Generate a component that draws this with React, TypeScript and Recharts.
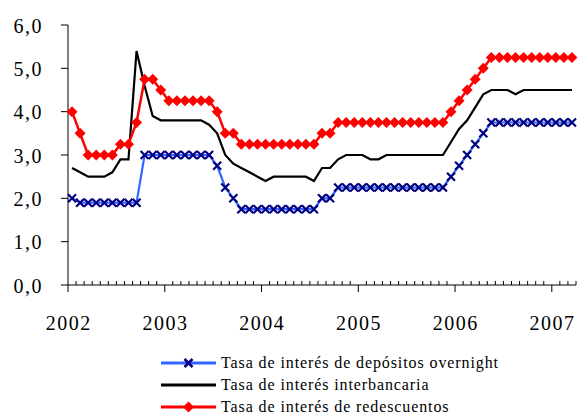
import React from "react";
import { LineChart, Line, XAxis, YAxis } from "recharts";

// monthly values, Jan 2002 .. Mar 2007
const years = ["2002", "2003", "2004", "2005", "2006", "2007"];

const overnight = [
  2.0, 1.9, 1.9, 1.9, 1.9, 1.9, 1.9, 1.9, 1.9, 3.0, 3.0, 3.0,
  3.0, 3.0, 3.0, 3.0, 3.0, 3.0, 2.75, 2.25, 2.0, 1.75, 1.75, 1.75,
  1.75, 1.75, 1.75, 1.75, 1.75, 1.75, 1.75, 2.0, 2.0, 2.25, 2.25, 2.25,
  2.25, 2.25, 2.25, 2.25, 2.25, 2.25, 2.25, 2.25, 2.25, 2.25, 2.25, 2.5,
  2.75, 3.0, 3.25, 3.5, 3.75, 3.75, 3.75, 3.75, 3.75, 3.75, 3.75, 3.75,
  3.75, 3.75, 3.75,
];

const interbancaria = [
  2.7, 2.6, 2.5, 2.5, 2.5, 2.6, 2.9, 2.9, 5.4, 4.6, 3.9, 3.8,
  3.8, 3.8, 3.8, 3.8, 3.8, 3.7, 3.5, 3.0, 2.8, 2.7, 2.6, 2.5,
  2.4, 2.5, 2.5, 2.5, 2.5, 2.5, 2.4, 2.7, 2.7, 2.9, 3.0, 3.0,
  3.0, 2.9, 2.9, 3.0, 3.0, 3.0, 3.0, 3.0, 3.0, 3.0, 3.0, 3.3,
  3.6, 3.8, 4.1, 4.4, 4.5, 4.5, 4.5, 4.4, 4.5, 4.5, 4.5, 4.5,
  4.5, 4.5, 4.5,
];

const redescuentos = [
  4.0, 3.5, 3.0, 3.0, 3.0, 3.0, 3.25, 3.25, 3.75, 4.75, 4.75, 4.5,
  4.25, 4.25, 4.25, 4.25, 4.25, 4.25, 4.0, 3.5, 3.5, 3.25, 3.25, 3.25,
  3.25, 3.25, 3.25, 3.25, 3.25, 3.25, 3.25, 3.5, 3.5, 3.75, 3.75, 3.75,
  3.75, 3.75, 3.75, 3.75, 3.75, 3.75, 3.75, 3.75, 3.75, 3.75, 3.75, 4.0,
  4.25, 4.5, 4.75, 5.0, 5.25, 5.25, 5.25, 5.25, 5.25, 5.25, 5.25, 5.25,
  5.25, 5.25, 5.25,
];

const labels = [
  "Tasa de interés de depósitos overnight",
  "Tasa de interés interbancaria",
  "Tasa de interés de redescuentos",
];

const yTicks = [0, 1, 2, 3, 4, 5, 6];

// points sit in the middle of each month
const data = overnight.map((v, i) => ({
  m: i + 0.5,
  overnight: v,
  interbancaria: interbancaria[i],
  redescuentos: redescuentos[i],
}));
const monthTicks = Array.from({ length: 64 }, (_, i) => i);

const FONT = '"Liberation Serif", "Times New Roman", serif';
const NAVY = "#000080";
const BLUE = "#3366ff";
const RED = "#ff0000";

const crossPath = (x: number, y: number, r: number) =>
  `M${x - r},${y - r}L${x + r},${y + r}M${x - r},${y + r}L${x + r},${y - r}`;
const diamondPath = (x: number, y: number, r: number) =>
  `M${x},${y - r}L${x + r},${y}L${x},${y + r}L${x - r},${y}Z`;

const CrossDot = (p: any) => (
  <path
    key={`c-${p.index}`}
    d={crossPath(p.cx, p.cy, 4)}
    stroke={NAVY}
    strokeWidth={2.2}
    fill="none"
  />
);

const DiamondDot = (p: any) => (
  <path key={`d-${p.index}`} d={diamondPath(p.cx, p.cy, 5.5)} fill={RED} />
);

const XTick = (props: any) => {
  const { x, y, payload } = props;
  const axisY = y - 30;
  const m = payload.value as number;
  if (m % 12 === 0) {
    return (
      <g>
        <line x1={x} x2={x} y1={axisY} y2={axisY + 7} stroke="#000" />
        <text
          x={x + 0.8}
          y={axisY + 45}
          textAnchor="middle"
          fontFamily={FONT}
          fontSize={20}
          style={{ letterSpacing: 1.5 }}
          fill="#000"
        >
          {years[m / 12]}
        </text>
      </g>
    );
  }
  return <line x1={x} x2={x} y1={axisY - 4} y2={axisY} stroke="#000" />;
};

const YTick = (props: any) => {
  const { y, payload } = props;
  return (
    <text
      x={43}
      y={y + 7.5}
      textAnchor="end"
      fontFamily={FONT}
      fontSize={20}
      style={{ letterSpacing: 1.5 }}
      fill="#000"
    >
      {(payload.value as number).toFixed(1).replace(".", ",")}
    </text>
  );
};

function LegendRow({ kind, label }: { kind: number; label: string }) {
  const stroke = kind === 0 ? BLUE : kind === 1 ? "#000" : RED;
  return (
    <div style={{ display: "flex", alignItems: "center", height: 22 }}>
      <svg width={55} height={22}>
        <line x1={0} x2={55} y1={11} y2={11} stroke={stroke} strokeWidth={3} />
        {kind === 0 && (
          <path d={crossPath(27.5, 11, 4)} stroke={NAVY} strokeWidth={2.5} fill="none" />
        )}
        {kind === 2 && <path d={diamondPath(27.5, 11, 5.5)} fill={RED} />}
      </svg>
      <span
        style={{
          marginLeft: 5,
          fontFamily: FONT,
          fontSize: 16,
          letterSpacing: 0.9,
          color: "#000",
          whiteSpace: "nowrap",
        }}
      >
        {label}
      </span>
    </div>
  );
}

export default function App() {
  return (
    <div
      style={{
        position: "absolute",
        left: 0,
        top: 0,
        width: 579,
        height: 414,
        background: "#fff",
      }}
    >
      <LineChart
        width={579}
        height={414}
        data={data}
        margin={{ top: 25, right: 3, left: 0, bottom: 89 }}
      >
        <XAxis
          dataKey="m"
          type="number"
          domain={[0, 63]}
          ticks={monthTicks}
          interval={0}
          tickLine={false}
          tickSize={7}
          tickMargin={23}
          height={40}
          axisLine={{ stroke: "#000" }}
          tick={XTick}
        />
        <YAxis
          type="number"
          domain={[0, 6]}
          ticks={yTicks}
          interval={0}
          width={68}
          tickSize={7}
          axisLine={{ stroke: "#000" }}
          tickLine={{ stroke: "#000" }}
          tick={YTick}
        />
        <Line
          dataKey="overnight"
          stroke={BLUE}
          strokeWidth={2.2}
          dot={CrossDot}
          activeDot={false}
          isAnimationActive={false}
        />
        <Line
          dataKey="interbancaria"
          stroke="#000"
          strokeWidth={2.2}
          dot={false}
          activeDot={false}
          isAnimationActive={false}
        />
        <Line
          dataKey="redescuentos"
          stroke={RED}
          strokeWidth={2.5}
          dot={DiamondDot}
          activeDot={false}
          isAnimationActive={false}
        />
      </LineChart>
      <div style={{ position: "absolute", left: 161, top: 352 }}>
        {labels.map((l, i) => (
          <LegendRow key={l} kind={i} label={l} />
        ))}
      </div>
    </div>
  );
}
